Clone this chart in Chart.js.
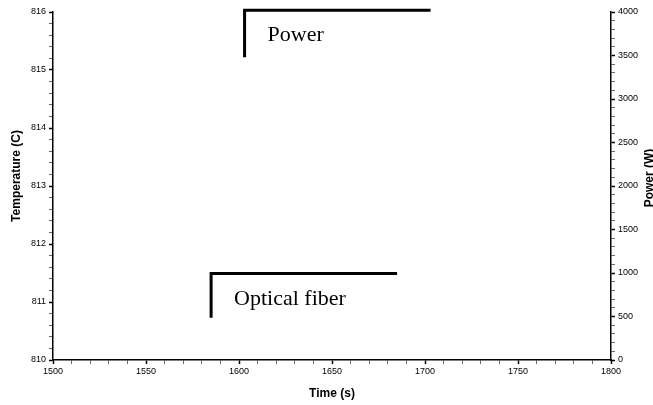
<!DOCTYPE html>
<html>
<head>
<meta charset="utf-8">
<script src="https://cdn.jsdelivr.net/npm/chart.js@4"></script>
<style>
  html, body { margin: 0; padding: 0; background: #fff; }
  #wrap { width: 653px; height: 405px; }
</style>
</head>
<body>
<div id="wrap"><canvas id="chart" width="653" height="405"></canvas></div>
<script>
// values
const powerTime = [1603, 1603, 1703];
const powerW = [3480, 4020, 4020];
const fiberTime = [1585, 1585, 1685];
const fiberTemp = [810.73, 811.49, 811.49];

const seriesNames = ["Power", "Optical fiber"];

function isWhole(v, step) {
  const r = v / step;
  return Math.abs(r - Math.round(r)) < 1e-6;
}

function toPoints(xs, ys) {
  return xs.map((x, i) => ({ x, y: ys[i] }));
}

// text callouts next to each line
const calloutPlugin = {
  id: "callouts",
  afterDatasetsDraw(chart) {
    const ctx = chart.ctx;
    ctx.save();
    ctx.font = "22px 'Liberation Serif', 'Times New Roman', serif";
    ctx.fillStyle = "#000";
    ctx.textBaseline = "alphabetic";
    chart.data.datasets.forEach((ds, i) => {
      const meta = chart.getDatasetMeta(i);
      const p = meta.data[0];
      const off = ds.labelOffset;
      ctx.fillText(ds.label, p.x + off[0], p.y + off[1]);
    });
    ctx.restore();
  }
};

// both y titles read bottom-to-top, a bit above centre like the scan
const yTitlePlugin = {
  id: "yTitles",
  afterDraw(chart) {
    const ctx = chart.ctx;
    const mid = (chart.chartArea.top + chart.chartArea.bottom) / 2;
    const drawV = (text, x, y) => {
      ctx.save();
      ctx.translate(x, y);
      ctx.rotate(-Math.PI / 2);
      ctx.font = "bold 12px 'Liberation Sans', Arial, sans-serif";
      ctx.fillStyle = "#000";
      ctx.textAlign = "center";
      ctx.textBaseline = "middle";
      ctx.fillText(text, 0, 0);
      ctx.restore();
    };
    drawV("Temperature (C)", 17, mid - 10);
    drawV("Power (W)", 650, mid - 8);
  }
};

const tickFont = { family: "'Liberation Sans', Arial, sans-serif", size: 9 };
const titleFont = { family: "'Liberation Sans', Arial, sans-serif", size: 12, weight: "bold" };

new Chart(document.getElementById("chart"), {
  type: "line",
  data: {
    datasets: [
      {
        label: seriesNames[0],
        data: toPoints(powerTime, powerW),
        yAxisID: "yPower",
        borderColor: "#000",
        borderWidth: 3,
        pointRadius: 0,
        tension: 0,
        clip: false,
        labelOffset: [23, -16]
      },
      {
        label: seriesNames[1],
        data: toPoints(fiberTime, fiberTemp),
        yAxisID: "yTemp",
        borderColor: "#000",
        borderWidth: 3,
        pointRadius: 0,
        tension: 0,
        clip: false,
        labelOffset: [23, -13]
      }
    ]
  },
  options: {
    responsive: false,
    animation: false,
    layout: { padding: { top: 12, right: 0, left: 0, bottom: 0 } },
    plugins: { legend: { display: false }, tooltip: { enabled: false } },
    scales: {
      x: {
        type: "linear",
        min: 1500,
        max: 1800,
        border: { color: "#000", width: 1.5 },
        grid: {
          drawOnChartArea: false,
          tickLength: 4,
          tickColor: "#000",
          tickWidth: (c) => (isWhole(c.tick.value, 50) ? 1.5 : 0.6)
        },
        ticks: {
          stepSize: 10,
          autoSkip: false,
          maxRotation: 0,
          color: "#000",
          font: tickFont,
          padding: 2,
          callback: (v) => (isWhole(v, 50) ? String(v) : "")
        },
        title: { display: true, text: "Time (s)", color: "#000", font: titleFont, padding: { top: 7, bottom: 4 } },
        afterFit: (s) => { s.height = 45; }
      },
      yTemp: {
        type: "linear",
        position: "left",
        min: 810,
        max: 816,
        border: { color: "#000", width: 1.5 },
        grid: {
          drawOnChartArea: false,
          tickLength: 4,
          tickColor: "#000",
          tickWidth: (c) => (isWhole(c.tick.value, 1) ? 1.5 : 0.6)
        },
        ticks: {
          stepSize: 0.2,
          autoSkip: false,
          color: "#000",
          font: tickFont,
          padding: 3,
          callback: (v) => (isWhole(v, 1) ? String(Math.round(v)) : "")
        },
        afterFit: (s) => { s.width = 53; }
      },
      yPower: {
        type: "linear",
        position: "right",
        min: 0,
        max: 4000,
        border: { color: "#000", width: 1.5 },
        grid: {
          drawOnChartArea: false,
          tickLength: 4,
          tickColor: "#000",
          tickWidth: (c) => (isWhole(c.tick.value, 500) ? 1.5 : 0.6)
        },
        ticks: {
          stepSize: 100,
          autoSkip: false,
          color: "#000",
          font: tickFont,
          padding: 3,
          callback: (v) => (isWhole(v, 500) ? String(v) : "")
        },
        afterFit: (s) => { s.width = 42; }
      }
    }
  },
  plugins: [calloutPlugin, yTitlePlugin]
});
</script>
</body>
</html>
